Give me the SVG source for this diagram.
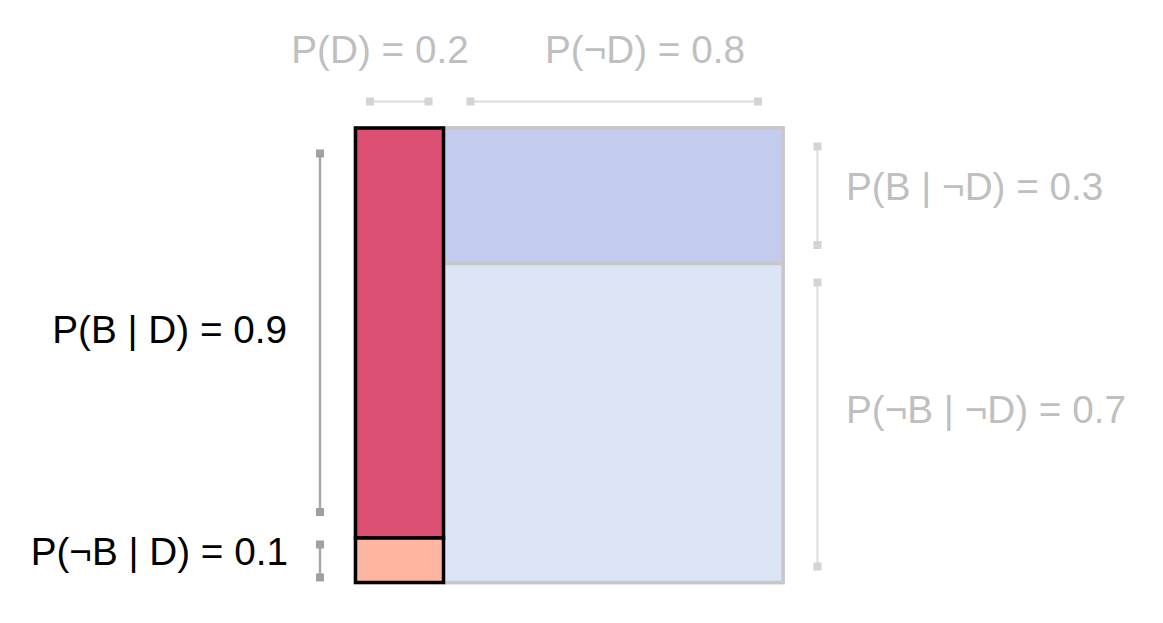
<svg xmlns="http://www.w3.org/2000/svg" width="1163" height="623" viewBox="0 0 1163 623">
<style>
text{font-family:"Liberation Sans",Arial,sans-serif;font-size:38.7px}
.lt{fill:#bfbfbf}
.dk{fill:#000}
.dl{stroke:#dcdcdc;stroke-width:2;fill:none}
.dm{fill:#d4d4d4}
.vl{stroke:#a8a8a8;stroke-width:2.5;fill:none}
.vm{fill:#a0a0a0}
</style>
<rect width="1163" height="623" fill="#fff"/>
<g id="box">
<rect x="355.5" y="128" width="427.5" height="454.5" fill="#dbe5f6" stroke="#c8c8c8" stroke-width="3.5"/>
</g>
<g id="b-notd">
<rect x="443.5" y="128" width="339.5" height="135.5" fill="#c3cbee" stroke="#c8c8c8" stroke-width="3.5"/>
</g>
<g id="notb-notd">
<rect x="443.5" y="263.5" width="339.5" height="319" fill="#dbe5f6" stroke="#c8c8c8" stroke-width="3.5"/>
</g>
<g id="b-d">
<rect x="355.5" y="128" width="88" height="410" fill="#dc4e72" stroke="#000" stroke-width="3.5"/>
</g>
<g id="notb-d">
<rect x="355.5" y="538" width="88" height="44.5" fill="#ffb6a0" stroke="#000" stroke-width="3.5"/>
</g>
<g id="connectors">
<line class="dl" x1="370" y1="101.5" x2="428.5" y2="101.5"/>
<rect class="dm" x="366" y="97.5" width="8" height="8"/>
<rect class="dm" x="424.5" y="97.5" width="8" height="8"/>
<line class="dl" x1="470.5" y1="101.5" x2="758" y2="101.5"/>
<rect class="dm" x="466.5" y="97.5" width="8" height="8"/>
<rect class="dm" x="754" y="97.5" width="8" height="8"/>
<line class="dl" x1="817.5" y1="146.5" x2="817.5" y2="245"/>
<rect class="dm" x="813.5" y="142.5" width="8" height="8"/>
<rect class="dm" x="813.5" y="241" width="8" height="8"/>
<line class="dl" x1="817.5" y1="282.5" x2="817.5" y2="566.5"/>
<rect class="dm" x="813.5" y="278.5" width="8" height="8"/>
<rect class="dm" x="813.5" y="562.5" width="8" height="8"/>
<line class="vl" x1="320" y1="153.5" x2="320" y2="512"/>
<rect class="vm" x="316" y="149.5" width="8" height="8"/>
<rect class="vm" x="316" y="508" width="8" height="8"/>
<line class="vl" x1="320" y1="544.5" x2="320" y2="577.5"/>
<rect class="vm" x="316" y="540.5" width="8" height="8"/>
<rect class="vm" x="316" y="573.5" width="8" height="8"/>
</g>
<g id="labels">
<text class="lt" x="380" y="62.5" text-anchor="middle">P(D) = 0.2</text>
<text class="lt" x="645" y="62.5" text-anchor="middle">P(¬D) = 0.8</text>
<text class="lt" x="846" y="199.5">P(B | ¬D) = 0.3</text>
<text class="lt" x="846" y="422.5">P(¬B | ¬D) = 0.7</text>
<text class="dk" x="287" y="342.5" text-anchor="end">P(B | D) = 0.9</text>
<text class="dk" x="288" y="565" text-anchor="end">P(¬B | D) = 0.1</text>
</g>
</svg>
